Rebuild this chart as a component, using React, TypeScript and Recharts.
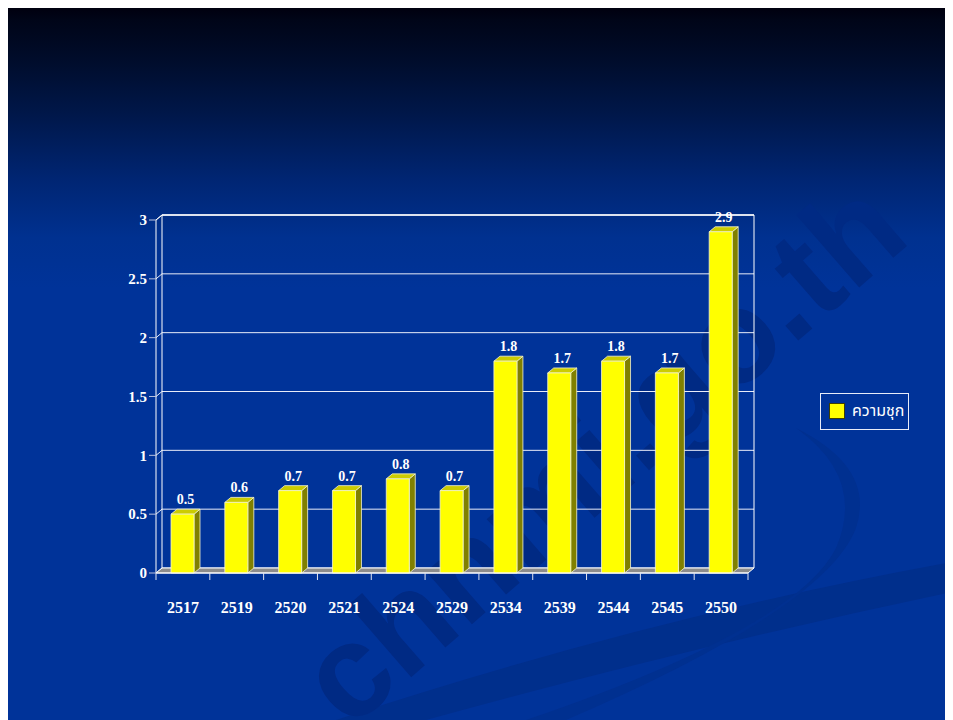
import React from 'react';
import {
  Bar,
  BarChart,
  CartesianGrid,
  LabelList,
  ReferenceArea,
  XAxis,
  YAxis,
} from 'recharts';

const years = ['2517', '2519', '2520', '2521', '2524', '2529', '2534', '2539', '2544', '2545', '2550'];
const prevalence = [0.5, 0.6, 0.7, 0.7, 0.8, 0.7, 1.8, 1.7, 1.8, 1.7, 2.9];
const yTicks = [0, 0.5, 1, 1.5, 2, 2.5, 3];
const seriesName = 'ความชุก';

const data = years.map((year, i) => ({ year, value: prevalence[i] }));

const W = 941;
const H = 712;
const MARGIN = { top: 212, right: 199, bottom: 117, left: 110 };
const Y_AXIS_W = 40;
const PLOT_W = W - MARGIN.left - MARGIN.right - Y_AXIS_W;
const BAND = PLOT_W / years.length;

// 3D depth offsets
const DX = 6;
const DY = 5;

const SERIF = '"Liberation Serif", "Times New Roman", serif';
const THAI = '"Noto Sans Thai", Tahoma, "Noto Sans", "DejaVu Sans", sans-serif';

function Bar3D(props: any) {
  const { x, y, width, height } = props;
  if (height == null || height <= 0) return null;
  const edge = { stroke: '#f4f4d0', strokeWidth: 0.8, strokeLinejoin: 'round' as const };
  return (
    <g>
      <polygon
        points={`${x + width},${y} ${x + width + DX},${y - DY} ${x + width + DX},${y + height - DY} ${x + width},${y + height}`}
        fill="#808000"
        {...edge}
      />
      <polygon
        points={`${x},${y} ${x + DX},${y - DY} ${x + width + DX},${y - DY} ${x + width},${y}`}
        fill="#cccc00"
        {...edge}
      />
      <rect x={x} y={y} width={width} height={height} fill="#ffff00" {...edge} />
    </g>
  );
}

function Walls(props: any) {
  const { x, y, width, height } = props;
  const bottom = y + height;
  return (
    <g>
      {/* floor */}
      <polygon
        points={`${x},${bottom} ${x + DX},${bottom - DY} ${x + width + DX},${bottom - DY} ${x + width},${bottom}`}
        fill="#8c8c8c"
        stroke="#ffffff"
        strokeWidth={1}
      />
      {/* back wall outline */}
      <line x1={x + DX} y1={y - DY} x2={x + DX} y2={bottom - DY} stroke="#ffffff" strokeWidth={1} />
      <line x1={x + width + DX} y1={y - DY} x2={x + width + DX} y2={bottom - DY} stroke="#ffffff" strokeWidth={1} />
      <line x1={x + DX} y1={y - DY} x2={x + width + DX} y2={y - DY} stroke="#ffffff" strokeWidth={1.5} />
      <line x1={x} y1={y} x2={x + DX} y2={y - DY} stroke="#ffffff" strokeWidth={1} />
    </g>
  );
}

function GridLine(props: any) {
  const { x1, x2, y1 } = props;
  return (
    <g key={props.key}>
      <line x1={x1} y1={y1} x2={x1 + DX} y2={y1 - DY} stroke="#e8ecf8" strokeWidth={1} />
      <line x1={x1 + DX} y1={y1 - DY} x2={x2 + DX} y2={y1 - DY} stroke="#e8ecf8" strokeWidth={1} />
    </g>
  );
}

function YearTick(props: any) {
  const { x, y, payload, index } = props;
  const last = index === years.length - 1;
  return (
    <g>
      <line x1={x - BAND / 2} y1={y} x2={x - BAND / 2} y2={y + 7} stroke="#e0e4f0" strokeWidth={1} />
      {last && <line x1={x + BAND / 2} y1={y} x2={x + BAND / 2} y2={y + 7} stroke="#e0e4f0" strokeWidth={1} />}
      <text
        x={x}
        y={y + 40}
        textAnchor="middle"
        fill="#ffffff"
        fontFamily={SERIF}
        fontWeight="bold"
        fontSize={16}
      >
        {payload.value}
      </text>
    </g>
  );
}

function ValueLabel(props: any) {
  const { x, y, width, value } = props;
  return (
    <text
      x={x + width / 2 + DX / 2}
      y={y - DY - 5}
      textAnchor="middle"
      fill="#ffffff"
      fontFamily={SERIF}
      fontWeight="bold"
      fontSize={14}
    >
      {value}
    </text>
  );
}

function LegendBox() {
  return (
    <div
      style={{
        position: 'absolute',
        left: 814,
        top: 385,
        display: 'flex',
        alignItems: 'center',
        border: '1px solid #e8ecf8',
        padding: '7px 4px 8px 8px',
        whiteSpace: 'nowrap',
      }}
    >
      <span
        style={{
          display: 'inline-block',
          width: 14,
          height: 14,
          background: '#ffff00',
          border: '1px solid #404000',
          marginRight: 7,
        }}
      />
      <span style={{ color: '#ffffff', fontFamily: THAI, fontSize: 16, lineHeight: '20px' }}>
        {seriesName}
      </span>
    </div>
  );
}

export default function App() {
  return (
    <div
      style={{
        position: 'relative',
        width: W,
        height: H,
        marginLeft: -2,
        background:
          'linear-gradient(to bottom, #00000f 0px, #000518 12px, #000c2a 50px, #00184c 110px, #002572 170px, #003190 230px, #003399 280px, #003399 100%)',
        overflow: 'hidden',
      }}
    >
      <svg width={W} height={H} style={{ position: 'absolute', left: 0, top: 0 }}>
        <path
          d="M 330 712 Q 640 610 941 555 L 941 585 Q 680 640 420 712 Z"
          fill="#002f8c"
        />
        <path
          d="M 560 712 Q 820 600 850 520 Q 870 460 790 420 Q 860 470 830 540 Q 790 620 520 712 Z"
          fill="#003090"
        />
        <text
          x={625}
          y={478}
          transform="rotate(-41 625 478)"
          textAnchor="middle"
          fontFamily='"Liberation Sans", Arial, sans-serif'
          fontWeight="bold"
          fontSize={132}
          fill="#002a84"
        >
          chnmi.go.th
        </text>
      </svg>
      <div style={{ position: 'absolute', left: 0, top: 0 }}>
        <BarChart width={W} height={H} data={data} margin={MARGIN} barSize={23}>
          <ReferenceArea y1={0} y2={3} shape={<Walls />} ifOverflow="visible" />
          <CartesianGrid horizontal={(p: any) => <GridLine {...p} />} vertical={false} />
          <XAxis
            dataKey="year"
            tickLine={false}
            tickSize={0}
            tickMargin={0}
            axisLine={{ stroke: '#ffffff', strokeWidth: 1 }}
            tick={<YearTick />}
            interval={0}
          />
          <YAxis
            width={Y_AXIS_W}
            domain={[0, 3]}
            ticks={yTicks}
            tickSize={7}
            tickMargin={2}
            axisLine={{ stroke: '#ffffff', strokeWidth: 1 }}
            tickLine={{ stroke: '#b8c0dc' }}
            tick={{ fill: '#ffffff', fontFamily: SERIF, fontWeight: 'bold', fontSize: 15 }}
          />
          <Bar dataKey="value" name={seriesName} shape={<Bar3D />} isAnimationActive={false}>
            <LabelList dataKey="value" content={<ValueLabel />} />
          </Bar>
        </BarChart>
      </div>
      <LegendBox />
    </div>
  );
}
